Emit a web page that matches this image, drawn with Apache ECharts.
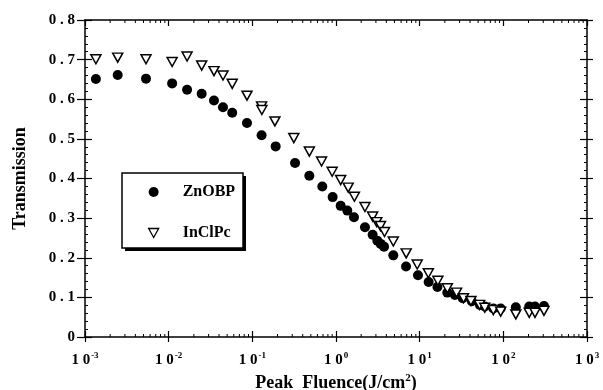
<!DOCTYPE html>
<html>
<head>
<meta charset="utf-8">
<script src="https://cdn.jsdelivr.net/npm/echarts@6/dist/echarts.min.js"></script>
<style>
html, body { margin: 0; padding: 0; background: #fff; }
#chart { width: 603px; height: 390px; }
</style>
</head>
<body>
<div id="chart"></div>
<script>
// fluence (J/cm^2) vs transmission
const znobpX = [0.00135, 0.00246, 0.00536, 0.011, 0.0166, 0.0248, 0.0348, 0.0446, 0.0575, 0.0863, 0.129, 0.19, 0.324, 0.48, 0.686, 0.912, 1.137, 1.365, 1.64, 2.22, 2.74, 3.12, 3.42, 3.75, 4.84, 6.87, 9.55, 12.8, 16.3, 21.4, 26.4, 32.7, 42, 52.5, 60, 75.9, 93, 141, 204, 239, 306]
const znobpY = [0.651, 0.661, 0.652, 0.640, 0.624, 0.614, 0.597, 0.580, 0.566, 0.540, 0.509, 0.481, 0.439, 0.407, 0.380, 0.353, 0.331, 0.319, 0.302, 0.277, 0.258, 0.243, 0.235, 0.228, 0.206, 0.178, 0.156, 0.139, 0.126, 0.112, 0.106, 0.098, 0.090, 0.081, 0.077, 0.072, 0.072, 0.075, 0.077, 0.077, 0.078]
const inclpcX = [0.00135, 0.00246, 0.00536, 0.011, 0.0166, 0.0248, 0.0348, 0.0446, 0.0575, 0.0863, 0.129, 0.13, 0.186, 0.313, 0.48, 0.672, 0.9, 1.137, 1.4, 1.66, 2.22, 2.74, 3.07, 3.4, 3.8, 4.84, 6.9, 9.35, 12.7, 16.5, 21.4, 27.6, 33.4, 41, 52, 60, 75.9, 93, 141, 204, 239, 306]
const inclpcY = [0.701, 0.705, 0.701, 0.694, 0.708, 0.685, 0.671, 0.660, 0.639, 0.609, 0.582, 0.573, 0.544, 0.502, 0.468, 0.443, 0.417, 0.396, 0.377, 0.354, 0.328, 0.304, 0.290, 0.280, 0.265, 0.241, 0.211, 0.183, 0.161, 0.142, 0.123, 0.112, 0.098, 0.091, 0.081, 0.074, 0.068, 0.064, 0.057, 0.061, 0.061, 0.066]
const decades = [-3, -2, -1, 0, 1, 2]

const font = '"Liberation Serif", "DejaVu Serif", serif'
const downTri = 'path://M0,0 L10,0 L5,9 Z'

// minor ticks for log axis (2..9 x 10^n)
const minorX = []
decades.forEach(d => {
    for (let k = 2; k <= 9; k++) minorX.push([k * Math.pow(10, d)])
})

const chart = echarts.init(document.getElementById('chart'))

const logAxis = (extra) => Object.assign({
    type: 'log',
    logBase: 10,
    min: 0.001,
    max: 1000,
    splitLine: { show: false },
    axisLine: { show: false, lineStyle: { color: '#000', width: 1.5 } },
    axisTick: { show: false },
    axisLabel: { show: false }
}, extra)

const valAxis = (extra) => Object.assign({
    type: 'value',
    min: 0,
    max: 0.8,
    interval: 0.1,
    splitLine: { show: false },
    axisLine: { show: false, lineStyle: { color: '#000', width: 1.5 } },
    axisTick: { show: false },
    axisLabel: { show: false }
}, extra)

chart.setOption({
    animation: false,
    grid: { left: 85, right: 16, top: 20, bottom: 53, outerBoundsMode: 'none' },
    // legend frame with drop shadow
    graphic: [
        { type: 'rect', z: 1, shape: { x: 125, y: 176, width: 121, height: 75 }, style: { fill: '#000' } },
        { type: 'rect', z: 1, shape: { x: 122, y: 173, width: 121, height: 75 }, style: { fill: '#fff', stroke: '#000', lineWidth: 1.5 } }
    ],
    xAxis: [
        logAxis({
            position: 'bottom',
            axisLine: { show: true, onZero: false, lineStyle: { color: '#000', width: 1.5 } },
            axisTick: { show: true, inside: true, length: 6, lineStyle: { color: '#000', width: 1.2 } },
            axisLabel: {
                show: true,
                margin: 14,
                formatter: v => '{b|1 0}{s|' + Math.round(Math.log10(v)) + '}',
                rich: {
                    b: { fontFamily: font, fontWeight: 'bold', fontSize: 15, color: '#000' },
                    s: { fontFamily: font, fontWeight: 'bold', fontSize: 9, color: '#000', padding: [0, 0, 9, 1] }
                }
            },
            name: '{b|Peak  Fluence(J/cm}{s|2}{b|)}',
            nameLocation: 'middle',
            nameGap: 33,
            nameTextStyle: {
                rich: {
                    b: { fontFamily: font, fontWeight: 'bold', fontSize: 18, color: '#000' },
                    s: { fontFamily: font, fontWeight: 'bold', fontSize: 11, color: '#000', padding: [0, 0, 10, 0] }
                }
            }
        }),
        logAxis({
            position: 'bottom',
            axisTick: { show: true, inside: false, length: 5, lineStyle: { color: '#000', width: 1.2 } }
        }),
        logAxis({
            position: 'top',
            axisLine: { show: true, onZero: false, lineStyle: { color: '#000', width: 1.5 } },
            axisTick: { show: true, inside: true, length: 6, lineStyle: { color: '#000', width: 1.2 } }
        })
    ],
    yAxis: [
        valAxis({
            position: 'left',
            axisLine: { show: true, onZero: false, lineStyle: { color: '#000', width: 1.5 } },
            axisTick: { show: true, inside: false, length: 8, lineStyle: { color: '#000', width: 1.2 } },
            axisLabel: {
                show: true,
                margin: 10,
                fontFamily: font,
                fontWeight: 'bold',
                fontSize: 15,
                color: '#000',
                formatter: v => v === 0 ? '0' : v.toFixed(1).split('').join(' ')
            },
            name: 'Transmission',
            nameLocation: 'middle',
            nameGap: 56,
            nameTextStyle: { fontFamily: font, fontWeight: 'bold', fontSize: 18, color: '#000' }
        }),
        valAxis({
            position: 'left',
            axisTick: { show: true, inside: true, length: 7, lineStyle: { color: '#000', width: 1.2 } },
            minorTick: { show: true, splitNumber: 5, length: 3, lineStyle: { color: '#000', width: 1 } }
        }),
        valAxis({
            position: 'right',
            axisLine: { show: true, onZero: false, lineStyle: { color: '#000', width: 1.5 } },
            axisTick: { show: true, inside: true, length: 7, lineStyle: { color: '#000', width: 1.2 } },
            minorTick: { show: true, splitNumber: 5, length: 3, lineStyle: { color: '#000', width: 1 } }
        }),
        valAxis({
            position: 'right',
            axisTick: { show: true, inside: false, length: 6, lineStyle: { color: '#000', width: 1.2 } }
        })
    ],
    legend: {
        orient: 'vertical',
        left: 122,
        top: 172,
        z: 5,
        padding: [12, 8, 8, 26],
        itemGap: 25,
        itemWidth: 10,
        itemHeight: 10,
        textStyle: { fontFamily: font, fontWeight: 'bold', fontSize: 16, color: '#000', padding: [0, 0, 0, 19] },
        data: [
            { name: 'ZnOBP', icon: 'circle', itemStyle: { color: '#000', borderWidth: 0 } },
            { name: 'InClPc', icon: downTri, itemStyle: { color: '#fff', borderColor: '#000', borderWidth: 1.3 } }
        ]
    },
    series: [
        {
            name: 'ZnOBP',
            type: 'scatter',
            symbol: 'circle',
            symbolSize: 10,
            itemStyle: { color: '#000', opacity: 1 },
            data: znobpX.map((x, i) => [x, znobpY[i]])
        },
        {
            name: 'InClPc',
            type: 'scatter',
            symbol: downTri,
            symbolSize: [10, 9],
            itemStyle: { color: '#fff', borderColor: '#000', borderWidth: 1.5, opacity: 1 },
            data: inclpcX.map((x, i) => [x, inclpcY[i]])
        },
        {
            type: 'custom',
            silent: true,
            renderItem: (params, api) => {
                const b = api.coord([api.value(0), 0])
                const t = api.coord([api.value(0), 0.8])
                return {
                    type: 'group',
                    children: [
                        { type: 'line', shape: { x1: b[0], y1: b[1], x2: b[0], y2: b[1] - 3 }, style: { stroke: '#000', lineWidth: 1 } },
                        { type: 'line', shape: { x1: t[0], y1: t[1], x2: t[0], y2: t[1] + 3 }, style: { stroke: '#000', lineWidth: 1 } }
                    ]
                }
            },
            data: minorX
        }
    ]
})
</script>
</body>
</html>
